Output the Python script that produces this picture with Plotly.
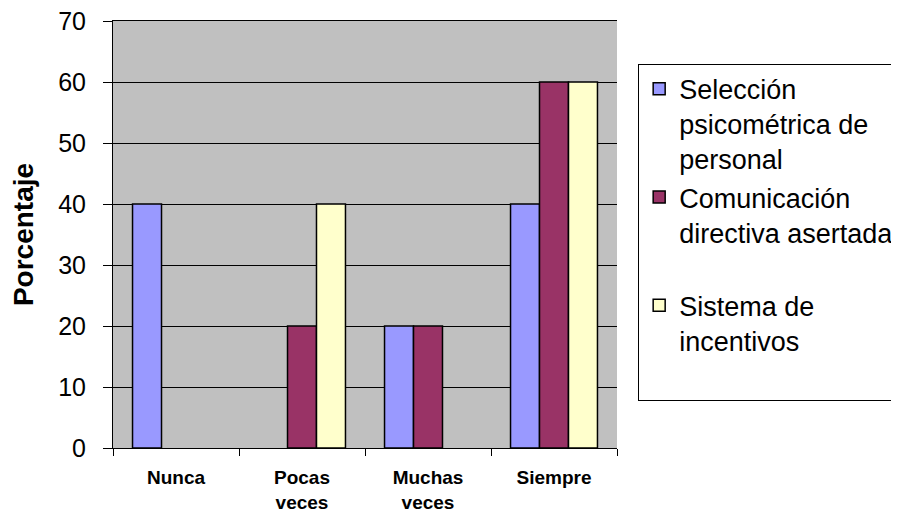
import plotly.graph_objects as go

categories = ["Nunca", "Pocas<br>veces", "Muchas<br>veces", "Siempre"]
series_names = [
    "Selección<br>psicométrica de<br>personal",
    "Comunicación<br>directiva asertada<br>\u00a0",
    "Sistema de<br>incentivos<br>\u00a0",
]
seleccion = [40, 0, 20, 40]
comunicacion = [0, 20, 20, 60]
sistema = [0, 40, 0, 60]
y_ticks = [0, 10, 20, 30, 40, 50, 60, 70]

colors = ["#9999FF", "#993366", "#FFFFCC"]
FONT = "Liberation Sans, Arial, sans-serif"

fig = go.Figure()
for name, vals, col in zip(series_names, [seleccion, comunicacion, sistema], colors):
    fig.add_trace(go.Bar(
        x=categories,
        y=[v if v else None for v in vals],  # zero-height bars are not drawn
        name=name,
        marker=dict(color=col, line=dict(color="black", width=1.5)),
    ))

fig.update_layout(
    width=899, height=516,
    margin=dict(l=105, r=290, t=13, b=76, autoexpand=False),
    paper_bgcolor="white",
    plot_bgcolor="#C0C0C0",
    barmode="group",
    bargap=0.31,
    bargroupgap=0,
    font=dict(family=FONT, color="black"),
    legend=dict(
        x=1.042, y=0.90, xanchor="left", yanchor="top",
        bgcolor="white", bordercolor="black", borderwidth=1,
        font=dict(family=FONT, size=27, color="black"),
        valign="top", tracegroupgap=9,
    ),
    xaxis=dict(
        showline=True, linecolor="black", linewidth=1, mirror=True,
        ticks="outside", tickson="boundaries", ticklen=7, tickcolor="black",
        ticklabelstandoff=12,
        tickfont=dict(family=FONT, size=19, color="black", weight="bold"),
        showgrid=False,
    ),
    yaxis=dict(
        range=[0, 70], tickvals=y_ticks,
        showline=True, linecolor="black", linewidth=1,
        ticks="outside", ticklen=9, tickcolor="black",
        ticklabelstandoff=12, ticklabeloverflow="allow",
        tickfont=dict(family=FONT, size=25, color="black"),
        showgrid=True, gridcolor="black", gridwidth=1,
        zeroline=False,
        title=dict(text="Porcentaje", standoff=19,
                   font=dict(family=FONT, size=28, color="black", weight="bold")),
    ),
)

fig.write_html("out.html")
